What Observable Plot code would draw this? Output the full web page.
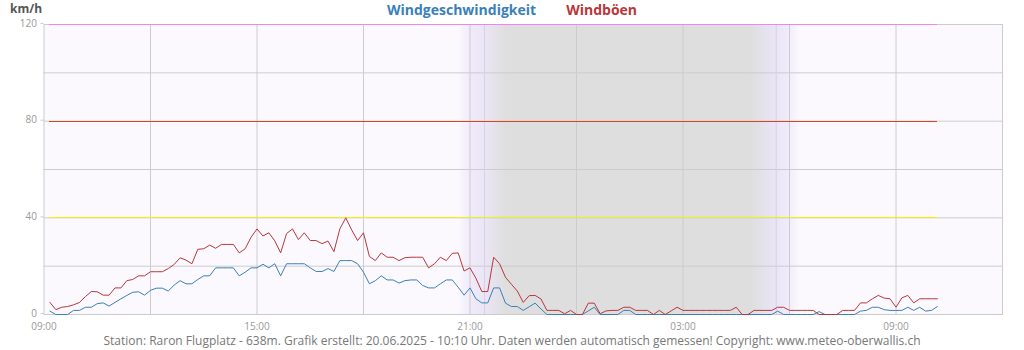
<!DOCTYPE html>
<html>
<head>
<meta charset="utf-8">
<script src="https://cdn.jsdelivr.net/npm/d3@7"></script>
<script src="https://cdn.jsdelivr.net/npm/@observablehq/plot@0.6"></script>
<style>
  body { margin: 0; background: #fff; font-family: "Open Sans", sans-serif; }
  #wrap { position: relative; width: 1024px; height: 350px; overflow: hidden; }
  #chart { position: absolute; left: 0; top: 0; }
  .ov { position: absolute; white-space: nowrap; }
  #unit { left: 10px; top: 3px; line-height: 12px; font-size: 12px; font-weight: bold; color: #555; }
  #legend { left: 0; width: 1024px; top: 0px; text-align: center; font-size: 14px; font-weight: bold; }
  #legend span { display: inline-block; }
  #caption { left: 0; width: 1024px; top: 335px; line-height: 12px; text-align: center; font-size: 12px; color: #777; }
</style>
</head>
<body>
<div id="wrap">
  <div id="chart"></div>
  <div class="ov" id="unit">km/h</div>
  <div class="ov" id="legend"></div>
  <div class="ov" id="caption"></div>
</div>
<script>
// ---- data ----
const seriesNames = ["Windgeschwindigkeit", "Windböen"];
const seriesColors = ["#3a7fb9", "#b8373a"];
const firstTime = "2025-06-19T09:10:00Z";   // first measurement
const stepMinutes = 10;                      // measurement interval
const windSpeed = [
  1.4, 0, 0, 0, 1.7, 1.7, 3, 3, 4.5, 4.8,
  3.5, 5, 6.5, 7.9, 9.2, 9.4, 8, 10, 10.9, 10.9,
  9.7, 12.2, 14, 12.7, 12.7, 14.5, 16, 16, 19.3, 19.3,
  19.3, 19.3, 16, 17.5, 19.3, 19.3, 20.8, 19.3, 21, 16,
  21, 21, 21, 21, 19.3, 17.8, 17.8, 19, 17.8, 22.3,
  22.3, 22.3, 21, 17.5, 12.7, 14, 16, 14.3, 14.3, 13,
  14, 14.3, 14.3, 12, 11, 11, 12.7, 14.3, 14.3, 11.3,
  8, 11, 6.5, 4.8, 4.8, 11, 11, 4.7, 3.3, 3.3,
  1.7, 3.2, 4.7, 2.3, 0, 0, 0, 0, 0, 0,
  0, 1.5, 3, 0, 0, 0, 0, 1.7, 1.7, 0,
  0, 0, 0, 0, 0, 0, 0, 0, 0, 0,
  0, 0, 0, 0, 0, 0, 0, 0, 0, 0,
  0, 0, 0, 1.4, 0, 0, 0, 0, 0, 0,
  1.2, 0, 0, 0, 0, 0, 0, 1.4, 1.7, 3,
  3, 2, 1.7, 1.7, 1.7, 3, 1.7, 3, 1.4, 1.7,
  3.3
];
const windGust = [
  5, 2, 3, 3.3, 4, 5, 7.4, 9.5, 9.4, 8,
  8, 11, 11, 14, 14.5, 16, 16, 17.7, 17.7, 17.7,
  19, 20.7, 23.5, 22.5, 21, 27, 27.2, 28.7, 27.4, 29,
  29, 29, 25.5, 27.2, 32, 35.4, 32.5, 33.8, 30.5, 25.5,
  33.5, 35.4, 31, 33.8, 30.6, 30.6, 29.3, 30.4, 26, 35.4,
  40, 35, 30.6, 33.8, 24, 22.3, 25.5, 23.7, 23.7, 22.3,
  23.5, 23.7, 23.7, 23.7, 19.3, 21, 23.7, 22.3, 25.3, 25.5,
  18, 19.3, 15, 9.5, 9.5, 23.7, 21, 15.4, 12.5, 9.7,
  5, 7.8, 7.9, 6.4, 1.7, 1.7, 1.7, 0.3, 1.7, 0,
  0, 4.7, 4.7, 0.3, 1.5, 1.7, 1.7, 3, 3, 1.7,
  1.7, 1.7, 0, 1.7, 0, 1.5, 3, 1.7, 1.7, 1.7,
  1.7, 1.7, 1.7, 1.7, 1.7, 1.7, 3, 0, 0, 1.7,
  1.7, 1.7, 1.7, 3, 3, 1.7, 1.7, 1.7, 1.7, 1.7,
  0, 0, 0, 0, 1.7, 1.7, 1.7, 4.8, 4.8, 6.5,
  7.9, 6.8, 6.5, 3, 6.9, 7.9, 4.8, 6.5, 6.5, 6.5,
  6.5
];
const refLevels = [120, 80, 40];
const refColors = ["#f383f0", "#d9451f", "#f2ee14"];
const yTicks = [0, 40, 80, 120];
const yGrid = [20, 40, 60, 80, 100];
const xDomain = ["2025-06-19T09:00:00Z", "2025-06-20T12:00:00Z"];
const xTickLabels = ["2025-06-19T09:00:00Z", "2025-06-19T15:00:00Z", "2025-06-19T21:00:00Z", "2025-06-20T03:00:00Z", "2025-06-20T09:00:00Z"];
const xGridTimes = ["2025-06-19T12:00:00Z", "2025-06-19T15:00:00Z", "2025-06-19T18:00:00Z", "2025-06-19T21:00:00Z", "2025-06-20T00:00:00Z", "2025-06-20T03:00:00Z", "2025-06-20T06:00:00Z", "2025-06-20T09:00:00Z"];
const sunTimes = ["2025-06-19T21:24:30Z", "2025-06-20T05:37:30Z"]; // sunset, sunrise
const nightSpan = ["2025-06-19T20:40:30Z", "2025-06-20T06:18:30Z"];
const captionText = "Station: Raron Flugplatz - 638m. Grafik erstellt: 20.06.2025 - 10:10 Uhr. Daten werden automatisch gemessen! Copyright: www.meteo-oberwallis.ch";

// ---- build ----
const t0 = new Date(firstTime).getTime();
const timeAt = i => new Date(t0 + i * stepMinutes * 60000);
const rows = [];
windSpeed.forEach((v, i) => rows.push({t: timeAt(i), v, s: seriesNames[0]}));
windGust.forEach((v, i) => rows.push({t: timeAt(i), v, s: seriesNames[1]}));
const tFirst = timeAt(0), tLast = timeAt(windSpeed.length - 1);
const D = s => new Date(s);
// small pixel nudges so that 1px reference lines render crisp
const refDy = [0, 0.33, -0.33];

const marks = [
  Plot.frame({fill: "#fbf9fe", stroke: null}),
  Plot.rect([{x1: D(nightSpan[0]), x2: D(nightSpan[1])}], {x1: "x1", x2: "x2", y1: 0, y2: 120, fill: "url(#nightGrad)"}),
  Plot.gridY({ticks: yGrid, stroke: "#cccccc", strokeOpacity: 1}),
  Plot.gridX({ticks: xGridTimes.map(D), stroke: "#cccccc", strokeOpacity: 1}),
  Plot.ruleX(sunTimes.map(D), {stroke: "#d9d0e4", strokeWidth: 1}),
  Plot.frame({stroke: "#cccccc"}),
  ...refLevels.map((lv, k) => Plot.ruleY([{y: lv, x1: tFirst, x2: tLast}], {y: "y", x1: "x1", x2: "x2", stroke: refColors[k], strokeWidth: 1, dy: refDy[k], shapeRendering: "crispEdges"})),
  Plot.line(rows.filter(d => d.s === seriesNames[0]), {x: "t", y: "v", stroke: seriesColors[0], strokeWidth: 1}),
  Plot.line(rows.filter(d => d.s === seriesNames[1]), {x: "t", y: "v", stroke: seriesColors[1], strokeWidth: 1}),
  Plot.axisY({ticks: yTicks, tickSize: 3, tickPadding: 4, stroke: "#cccccc", fill: "#999", label: null, dy: -1}),
  Plot.axisX({ticks: xTickLabels.map(D), tickFormat: d3.utcFormat("%H:%M"), tickSize: 0, tickPadding: 8, fill: "#999", label: null})
];

const svg = Plot.plot({
  width: 1024,
  height: 350,
  marginTop: 24,
  marginBottom: 36,
  marginLeft: 43.5,
  marginRight: 22,
  x: {type: "utc", domain: xDomain.map(D)},
  y: {domain: [0, 120]},
  style: {fontFamily: "Open Sans", fontSize: "10px", background: "transparent", overflow: "visible"},
  marks
});

// gradient for the night shading
const ns = "http://www.w3.org/2000/svg";
const defs = document.createElementNS(ns, "defs");
const grad = document.createElementNS(ns, "linearGradient");
grad.setAttribute("id", "nightGrad");
grad.setAttribute("x1", "0"); grad.setAttribute("x2", "1");
grad.setAttribute("y1", "0"); grad.setAttribute("y2", "0");
[[0, "#fbf9fe"], [0.035, "#f0eafa"], [0.076, "#ebe6f6"], [0.14, "#dedede"], [0.855, "#dedede"], [0.925, "#e9e5f5"], [0.965, "#f0ebfa"], [1, "#fbf9fe"]]
  .forEach(([o, c]) => {
    const st = document.createElementNS(ns, "stop");
    st.setAttribute("offset", o);
    st.setAttribute("stop-color", c);
    grad.appendChild(st);
  });
defs.appendChild(grad);
svg.insertBefore(defs, svg.firstChild);
document.getElementById("chart").appendChild(svg);

// legend / title and caption
const legend = document.getElementById("legend");
seriesNames.forEach((n, i) => {
  const s = document.createElement("span");
  s.textContent = n;
  s.style.color = seriesColors[i];
  s.style.margin = "0 15px";
  legend.appendChild(s);
});
document.getElementById("caption").textContent = captionText;
</script>
</body>
</html>
